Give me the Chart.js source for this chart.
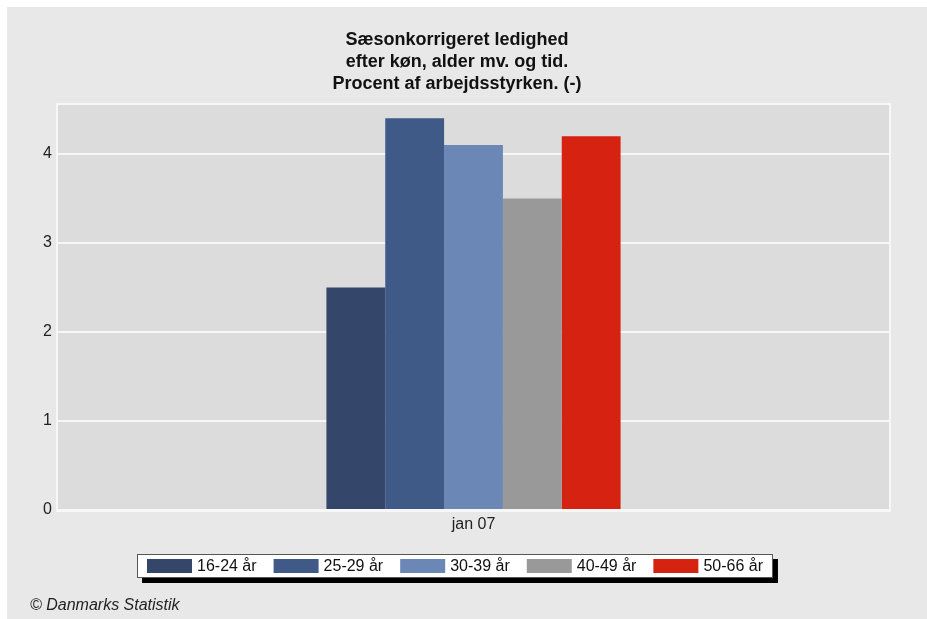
<!DOCTYPE html>
<html>
<head>
<meta charset="utf-8">
<script src="https://cdn.jsdelivr.net/npm/chart.js@4/dist/chart.umd.min.js"></script>
<style>
  html, body { margin: 0; padding: 0; background: #ffffff; }
  #wrap { position: absolute; left: 7px; top: 7px; width: 920px; height: 612px; background: #e8e8e8; }
  canvas { display: block; }
</style>
</head>
<body>
<div id="wrap"><canvas id="c" width="920" height="612"></canvas></div>
<script>
// ---- data ----
const categories = ['jan 07'];
const seriesLabels = ['16-24 år', '25-29 år', '30-39 år', '40-49 år', '50-66 år'];
const seriesValues = [2.5, 4.4, 4.1, 3.5, 4.2];
const seriesColors = ['#34466a', '#405a88', '#6a87b6', '#999999', '#d62311'];
const yTickValues = [0, 1, 2, 3, 4];
const titleLines = ['Sæsonkorrigeret ledighed', 'efter køn, alder mv. og tid.', 'Procent af arbejdsstyrken. (-)'];
const sourceText = '© Danmarks Statistik';

const FONT = '"Liberation Sans", Arial, Helvetica, sans-serif';

const datasets = seriesLabels.map((lab, i) => ({
  label: lab,
  data: [seriesValues[i]],
  backgroundColor: seriesColors[i],
  borderWidth: 0,
  categoryPercentage: 0.354,
  barPercentage: 1.0
}));

const decor = {
  id: 'decor',
  beforeDraw(chart) {
    const { ctx, chartArea: a } = chart;
    ctx.save();
    ctx.fillStyle = '#dcdcdc';
    ctx.fillRect(a.left, a.top, a.right - a.left, a.bottom - a.top);
    ctx.restore();
  },
  beforeDatasetsDraw(chart) {
    const { ctx, chartArea: a } = chart;
    ctx.save();
    ctx.strokeStyle = '#f7f7f7';
    ctx.lineWidth = 2;
    ctx.strokeRect(a.left - 1, a.top - 1, a.right - a.left + 2, a.bottom - a.top + 2);
    ctx.restore();
  },
  afterDraw(chart) {
    const ctx = chart.ctx;
    ctx.save();
    // title
    ctx.fillStyle = '#111';
    ctx.font = 'bold 18px ' + FONT;
    ctx.textAlign = 'center';
    ctx.textBaseline = 'alphabetic';
    const cx = 450;
    titleLines.forEach((t, i) => ctx.fillText(t, cx, 38 + i * 22));

    // legend
    ctx.font = '16px ' + FONT;
    const sw = 45, sh = 14, gapSwText = 5, gapItem = 17, padL = 10, padR = 10;
    const items = chart.data.datasets.map(d => ({ label: d.label, color: d.backgroundColor, w: ctx.measureText(d.label).width }));
    let total = padL + padR;
    items.forEach((it, i) => { total += sw + gapSwText + it.w + (i < items.length - 1 ? gapItem : 0); });
    const boxL = Math.round(448 - total / 2), boxT = 547, boxH = 24;
    ctx.fillStyle = '#000';
    ctx.fillRect(boxL + 5, boxT + 5, total, boxH);
    ctx.fillStyle = '#fff';
    ctx.fillRect(boxL, boxT, total, boxH);
    ctx.strokeStyle = '#555';
    ctx.lineWidth = 1;
    ctx.strokeRect(boxL + 0.5, boxT + 0.5, total - 1, boxH - 1);
    let x = boxL + padL;
    const cy = boxT + boxH / 2;
    ctx.textAlign = 'left';
    ctx.textBaseline = 'middle';
    items.forEach(it => {
      ctx.fillStyle = it.color;
      ctx.fillRect(x, cy - sh / 2, sw, sh);
      x += sw + gapSwText;
      ctx.fillStyle = '#111';
      ctx.fillText(it.label, x, cy + 1);
      x += it.w + gapItem;
    });

    // source
    ctx.font = 'italic 16px ' + FONT;
    ctx.textBaseline = 'alphabetic';
    ctx.fillStyle = '#222';
    ctx.fillText(sourceText, 23, 603);
    ctx.restore();
  }
};

new Chart(document.getElementById('c'), {
  type: 'bar',
  data: { labels: categories, datasets },
  plugins: [decor],
  options: {
    responsive: false,
    animation: false,
    devicePixelRatio: 1,
    layout: { padding: { top: 98, left: 0, right: 38, bottom: 79 } },
    plugins: {
      legend: { display: false },
      title: { display: false },
      tooltip: { enabled: false }
    },
    scales: {
      x: {
        grid: { display: false, drawTicks: false },
        border: { display: false },
        ticks: { color: '#222', font: { family: FONT, size: 16 }, padding: 5 },
        afterFit(s) { s.height = 30; }
      },
      y: {
        min: 0,
        max: 4.55,
        afterBuildTicks(s) { s.ticks = yTickValues.map(v => ({ value: v })); },
        grid: { color: '#f7f7f7', lineWidth: 2, drawTicks: false },
        border: { display: false },
        ticks: { color: '#222', font: { family: FONT, size: 16 }, padding: 6 },
        afterFit(s) { s.width = 51; }
      }
    }
  }
});
</script>
</body>
</html>
